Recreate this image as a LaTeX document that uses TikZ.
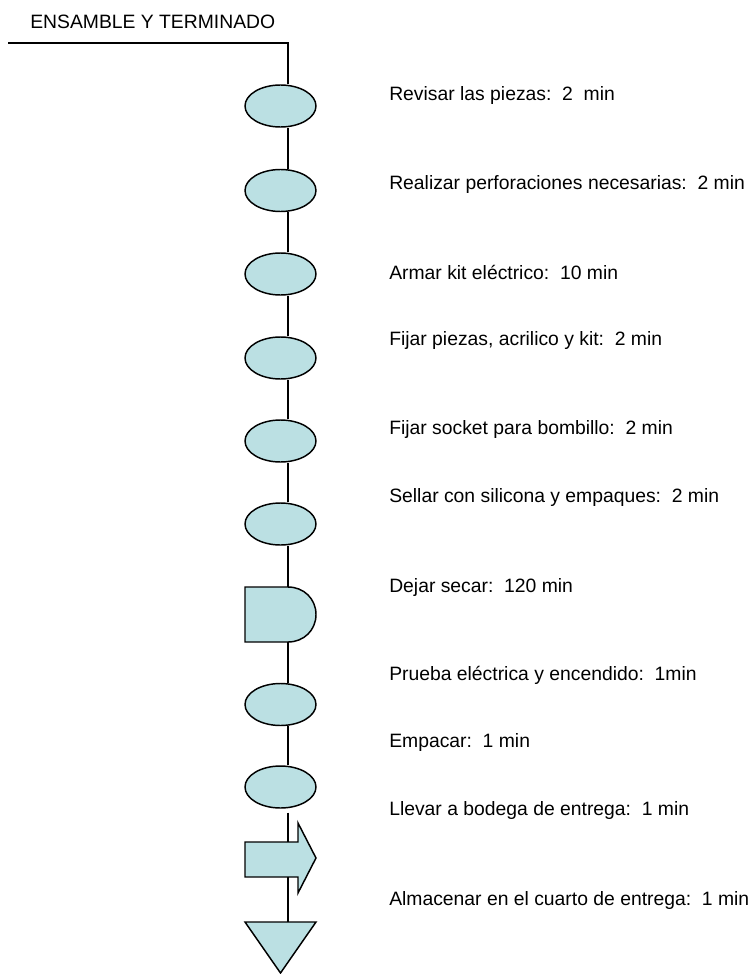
\documentclass[tikz,border=0pt]{standalone}
\usepackage{fontspec}
\setmainfont{Liberation Sans}
\usetikzlibrary{shapes.geometric}
\definecolor{shapefill}{RGB}{187,224,227}
\tikzset{
  x=0.75pt, y=-0.75pt,
  conn/.style={line width=1.1pt, black},
  shp/.style={draw=black, line width=1.1pt, fill=shapefill},
  opbox/.style={shp, ellipse, inner sep=0pt, minimum width=53.25pt, minimum height=31.5pt},
  lbl/.style={anchor=base west, inner sep=0pt, font=\fontsize{14.5}{17}\selectfont},
}
\begin{document}
\begin{tikzpicture}
\useasboundingbox (0,0) rectangle (754,974);
% header
\node[lbl] (hdr) at (30,29) {ENSAMBLE Y TERMINADO};
\coordinate (hstart) at (8,43);
\coordinate (L) at (288,43);
% operations
\node[opbox] (e1) at (280.5,106) {};
\node[opbox] (e2) at (280.5,190.5) {};
\node[opbox] (e3) at (280.5,274) {};
\node[opbox] (e4) at (280.5,358) {};
\node[opbox] (e5) at (280.5,441) {};
\node[opbox] (e6) at (280.5,524) {};
% delay (D shape)
\draw[shp] (245,587) -- (288,587) .. controls (304,587) and (316,599) .. (316,614.5)
  .. controls (316,630) and (304,642) .. (288,642) -- (245,642) -- cycle;
\coordinate (dtop) at (288,587);
\coordinate (dbot) at (288,642);
\node[opbox] (e7) at (280.5,704.5) {};
\node[opbox] (e8) at (280.5,787) {};
% transport arrow
\draw[shp] (245,842) -- (298,842) -- (298,823) -- (316,858) -- (298,893) -- (298,877) -- (245,877) -- cycle;
\coordinate (atop) at (288,842);
\coordinate (abot) at (288,877);
% storage triangle
\draw[shp] (245,922) -- (316,922) -- (280.5,973) -- cycle;
\coordinate (ttop) at (288,922);
% connectors
\draw[conn] (hstart) -- (L) -- (e1.north -| L);
\draw[conn] (e1.south -| L) -- (e2.north -| L);
\draw[conn] (e2.south -| L) -- (e3.north -| L);
\draw[conn] (e3.south -| L) -- (e4.north -| L);
\draw[conn] (e4.south -| L) -- (e5.north -| L);
\draw[conn] (e5.south -| L) -- (e6.north -| L);
\draw[conn] (e6.south -| L) -- (dtop);
\draw[conn] (dbot) -- (e7.north -| L);
\draw[conn] (e7.south -| L) -- (e8.north -| L);
\draw[conn, shorten <=3pt] (e8.south -| L) -- (atop);
\draw[conn] (abot) -- (ttop);
% labels
\node[lbl] (t1) at (389,100) {Revisar las piezas:\ \ 2\ \ min};
\node[lbl] (t2) at (389,189) {Realizar perforaciones necesarias:\ \ 2 min};
\node[lbl] (t3) at (389,279) {Armar kit eléctrico:\ \ 10 min};
\node[lbl] (t4) at (389,345) {Fijar piezas, acrilico y kit:\ \ 2 min};
\node[lbl] (t5) at (389,434) {Fijar socket para bombillo:\ \ 2 min};
\node[lbl] (t6) at (389,502) {Sellar con silicona y empaques:\ \ 2 min};
\node[lbl] (t7) at (389,592) {Dejar secar:\ \ 120 min};
\node[lbl] (t8) at (389,680) {Prueba eléctrica y encendido:\ \ 1min};
\node[lbl] (t9) at (389,747) {Empacar:\ \ 1 min};
\node[lbl] (t10) at (389,815) {Llevar a bodega de entrega:\ \ 1 min};
\node[lbl] (t11) at (389,905) {Almacenar en el cuarto de entrega:\ \ 1 min};
\end{tikzpicture}
\end{document}
